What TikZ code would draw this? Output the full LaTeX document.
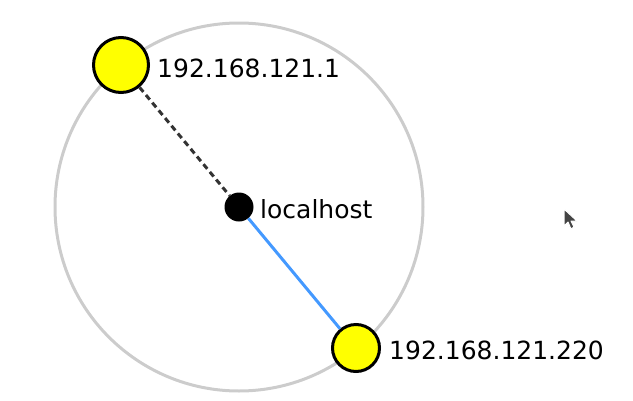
\documentclass[tikz,border=0pt]{standalone}
\usepackage{fontspec}
\setmainfont{DejaVu Sans}
\definecolor{ringgray}{HTML}{CCCCCC}
\definecolor{hostyellow}{HTML}{FFFF00}
\definecolor{linkblue}{HTML}{4499FF}
\definecolor{linkdark}{HTML}{333333}
\definecolor{cursorgray}{HTML}{444444}
\begin{document}
\begin{tikzpicture}[x=1pt,y=-1pt,
  host/.style={circle,draw=black,line width=3pt,fill=hostyellow,inner sep=0pt},
  hostlabel/.style={anchor=base west,inner sep=0pt,font=\fontsize{25}{30}\selectfont}]
\useasboundingbox (0,0) rectangle (633,400);
% ring
\draw[ringgray,line width=3pt] (239,207) circle (184pt);
% hosts
\node[circle,fill=black,inner sep=0pt,minimum size=29pt] (local) at (239,207) {};
\node[host,minimum size=55pt] (gw) at (121,65) {};
\node[host,minimum size=47pt] (peer) at (356,348) {};
% links
\draw[linkdark,line width=3pt,dash pattern=on 6pt off 4pt] (gw) -- (local);
\draw[linkblue,line width=3pt] (local) -- (peer);
% labels
\node[hostlabel] (gwlabel) at (157,77) {192.168.121.1};
\node[hostlabel] (locallabel) at (260,218) {localhost};
\node[hostlabel] (peerlabel) at (389,359) {192.168.121.220};
% pointer
\filldraw[cursorgray,draw=white,line width=1pt,line join=round]
  (564,209) -- (564,226) -- (568,222) -- (571,229) -- (574,227) -- (571,221) -- (577,221) -- cycle;
\end{tikzpicture}
\end{document}
